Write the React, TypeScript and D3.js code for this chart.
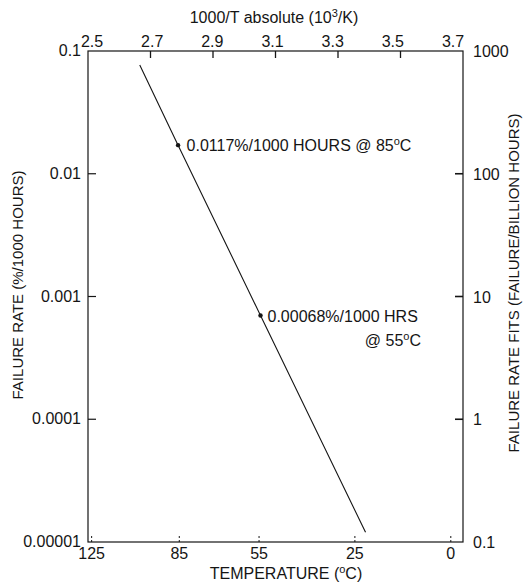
import React, { useEffect, useRef } from "react";
import * as d3 from "d3";

// ---- data ----
const invTTicks = [2.5, 2.7, 2.9, 3.1, 3.3, 3.5, 3.7];
const tempTicks = [125, 85, 55, 25, 0];
const rateTicks = [0.1, 0.01, 0.001, 0.0001, 0.00001];
const rateTickLabels = ["0.1", "0.01", "0.001", "0.0001", "0.00001"];
const fitTicks = [1000, 100, 10, 1, 0.1];
const fitTickLabels = ["1000", "100", "10", "1", "0.1"];

// failure-rate line (°C, %/1000 h)
const lineTempC = [102, 85.5, 54.5, 22];
const lineRate = [0.077, 0.0171, 0.0007, 0.000012];

// annotated points
const pointTempC = [85.5, 54.5];
const pointRate = [0.0171, 0.0007];

const W = 523;
const H = 585;
const M = { left: 88, right: 463, top: 51, bottom: 542 };
const FONT = "'Liberation Sans', Arial, Helvetica, sans-serif";
const FS = 16;
const FS_TITLE = 15;
const SUP = 11;

const toInvT = (c: number) => 1000 / (c + 273.15);

export default function App() {
  const ref = useRef<SVGSVGElement>(null);

  useEffect(() => {
    const svg = d3.select(ref.current);
    svg.selectAll("*").remove();

    const x = d3.scaleLinear().domain([2.5, 3.7]).range([M.left, M.right]);
    // top labels sit slightly inside the frame corners in the original
    const xLab = d3.scaleLinear().domain([2.5, 3.7]).range([M.left + 4, M.right - 10]);
    const y = d3.scaleLog().domain([0.1, 0.00001]).range([M.top, M.bottom]);
    const yFit = d3.scaleLog().domain([1000, 0.1]).range([M.top, M.bottom]);

    const g = svg.append("g").attr("font-family", FONT).attr("fill", "#151515");

    // frame
    g.append("rect")
      .attr("x", M.left)
      .attr("y", M.top)
      .attr("width", M.right - M.left)
      .attr("height", M.bottom - M.top)
      .attr("fill", "none")
      .attr("stroke", "#151515")
      .attr("stroke-width", 1.2);

    // top axis ticks + labels
    invTTicks.forEach((v, i) => {
      const px = x(v);
      if (i > 0 && i < invTTicks.length - 1) {
        g.append("line")
          .attr("x1", px).attr("x2", px)
          .attr("y1", M.top).attr("y2", M.top + 7)
          .attr("stroke", "#151515").attr("stroke-width", 1.3);
      }
      g.append("text")
        .attr("x", xLab(v))
        .attr("y", M.top - 4)
        .attr("text-anchor", "middle")
        .attr("font-size", FS)
        .text(v.toFixed(1));
    });

    // top title
    const tt = g.append("text")
      .attr("x", 274)
      .attr("y", 23)
      .attr("text-anchor", "middle")
      .attr("font-size", FS);
    tt.append("tspan").text("1000/T absolute (10");
    tt.append("tspan").attr("dy", -6).attr("font-size", SUP).text("3");
    tt.append("tspan").attr("dy", 6).text("/K)");

    // bottom axis (temperature)
    tempTicks.forEach((c) => {
      const px = x(toInvT(c));
      g.append("line")
        .attr("x1", px).attr("x2", px)
        .attr("y1", M.bottom).attr("y2", M.bottom - 8)
        .attr("stroke", "#151515").attr("stroke-width", 1)
        .attr("stroke-dasharray", "2,2");
      g.append("text")
        .attr("x", px)
        .attr("y", M.bottom + 17)
        .attr("text-anchor", "middle")
        .attr("font-size", FS)
        .text(String(c));
    });

    const bt = g.append("text")
      .attr("x", 286)
      .attr("y", 579)
      .attr("text-anchor", "middle")
      .attr("font-size", FS);
    bt.append("tspan").text("TEMPERATURE (");
    bt.append("tspan").attr("dy", -6).attr("font-size", SUP).text("o");
    bt.append("tspan").attr("dy", 6).text("C)");

    // left axis
    rateTicks.forEach((v, i) => {
      const py = y(v);
      if (i > 0 && i < rateTicks.length - 1) {
        g.append("line")
          .attr("x1", M.left).attr("x2", M.left + 8)
          .attr("y1", py).attr("y2", py)
          .attr("stroke", "#151515").attr("stroke-width", 1.2);
      }
      g.append("text")
        .attr("x", M.left - 7)
        .attr("y", py + 5)
        .attr("text-anchor", "end")
        .attr("font-size", FS)
        .text(rateTickLabels[i]);
    });

    g.append("text")
      .attr("transform", `translate(23, 285) rotate(-90)`)
      .attr("text-anchor", "middle")
      .attr("font-size", FS_TITLE)
      .text("FAILURE RATE (%/1000 HOURS)");

    // right axis
    fitTicks.forEach((v, i) => {
      const py = yFit(v);
      if (i > 0 && i < fitTicks.length - 1) {
        g.append("line")
          .attr("x1", M.right).attr("x2", M.right - 8)
          .attr("y1", py).attr("y2", py)
          .attr("stroke", "#151515").attr("stroke-width", 1.6);
      }
      g.append("text")
        .attr("x", M.right + 10)
        .attr("y", py + 6)
        .attr("text-anchor", "start")
        .attr("font-size", FS)
        .text(fitTickLabels[i]);
    });

    g.append("text")
      .attr("transform", `translate(519, 283) rotate(-90)`)
      .attr("text-anchor", "middle")
      .attr("font-size", FS_TITLE)
      .text("FAILURE RATE FITS (FAILURE/BILLION HOURS)");

    // failure rate line
    const data = lineTempC.map((c, i) => ({ c, r: lineRate[i] }));
    const line = d3.line<{ c: number; r: number }>()
      .x((d) => x(toInvT(d.c)))
      .y((d) => y(d.r));
    g.append("path")
      .datum(data)
      .attr("d", line)
      .attr("fill", "none")
      .attr("stroke", "#151515")
      .attr("stroke-width", 1.1);

    // points
    pointTempC.forEach((c, i) => {
      g.append("circle")
        .attr("cx", x(toInvT(c)))
        .attr("cy", y(pointRate[i]))
        .attr("r", 2.2)
        .attr("fill", "#151515");
    });

    // annotations
    const p1x = x(toInvT(pointTempC[0]));
    const p1y = y(pointRate[0]);
    const a1 = g.append("text")
      .attr("x", p1x + 8.5)
      .attr("y", p1y + 5.5)
      .attr("font-size", FS);
    a1.append("tspan").text("0.0117%/1000 HOURS @ 85");
    a1.append("tspan").attr("dy", -6).attr("font-size", SUP).text("o");
    a1.append("tspan").attr("dy", 6).text("C");

    const p2x = x(toInvT(pointTempC[1]));
    const p2y = y(pointRate[1]);
    g.append("text")
      .attr("x", p2x + 7)
      .attr("y", p2y + 6)
      .attr("font-size", FS)
      .text("0.00068%/1000 HRS");
    const a2 = g.append("text")
      .attr("x", 421)
      .attr("y", p2y + 30)
      .attr("text-anchor", "end")
      .attr("font-size", FS);
    a2.append("tspan").text("@ 55");
    a2.append("tspan").attr("dy", -6).attr("font-size", SUP).text("o");
    a2.append("tspan").attr("dy", 6).text("C");
  }, []);

  return (
    <svg
      ref={ref}
      width={W}
      height={H}
      style={{ position: "absolute", left: 0, top: 0, background: "#fff" }}
    />
  );
}
